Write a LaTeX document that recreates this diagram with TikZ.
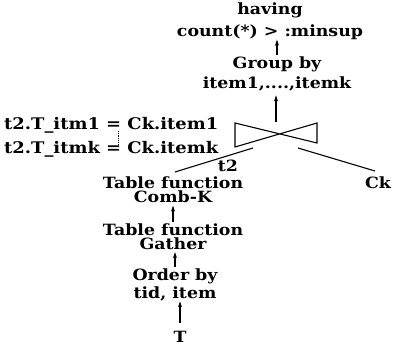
\documentclass[tikz,border=0pt]{standalone}
\usepackage{fontspec}
\setmainfont{DejaVu Serif}[FakeStretch=1.12]
\usetikzlibrary{arrows.meta}

\tikzset{
  op/.style={inner sep=0pt, align=center, font=\bfseries\fontsize{15.5}{19}\selectfont},
  flow/.style={-{Stealth[length=6pt,width=4pt]}, line width=1.1pt},
  edge/.style={line width=1.1pt}
}

\begin{document}
\begin{tikzpicture}[x=1pt,y=-1pt]
  \useasboundingbox (0,0) rectangle (394,347);
  % operators of the plan, bottom up
  \node[op] (T) at (180,337) {T};
  \node[op, font=\bfseries\fontsize{15.5}{18}\selectfont] (orderby) at (175,285) {Order by\\tid, item};
  \node[op, font=\bfseries\fontsize{15.5}{14}\selectfont] (gather) at (173,237) {Table function\\Gather};
  \node[op, font=\bfseries\fontsize{15.5}{14}\selectfont] (combk) at (173,189.5) {Table function\\Comb-K};
  \node[op] (ck) at (378,183) {Ck};
  \node[op] (t2) at (228,166) {t2};
  \node[op, font=\bfseries\fontsize{15.5}{20}\selectfont] (groupby) at (277,74) {Group by\\item1,....,itemk};
  \node[op, font=\bfseries\fontsize{15.5}{22}\selectfont] (having) at (270,21) {having\\count(*) > :minsup};
  % join predicate
  \node[op, anchor=west, font=\bfseries\fontsize{16}{19}\selectfont] (cond1) at (4,125) {t2.T\_itm1 = Ck.item1};
  \node[op, anchor=west, font=\bfseries\fontsize{16}{19}\selectfont] (condk) at (4,149) {t2.T\_itmk = Ck.itemk};
  \draw[densely dotted, line width=0.8pt] (118,131) -- (118,144);
  % join symbol
  \coordinate (join) at (276,134);
  \draw[edge] (235,123) -- (317,143) -- (317,123) -- (235,147) -- cycle;
  % join inputs
  \coordinate (t2in) at (175,172); \coordinate (ckin) at (375,171);
  \draw[edge] (253,148) -- (t2in);
  \draw[edge] (298,148) -- (ckin);
  % data flow
  \draw[flow] ([yshift=8pt]T.north) -- (T.north |- orderby.south);
  \draw[flow] ([yshift=2pt]orderby.north) -- ([yshift=-2pt]orderby.north |- gather.south);
  \draw[flow] ([yshift=2pt]gather.north) -- ([yshift=-3pt]gather.north |- combk.south);
  \draw[flow] ([yshift=12pt]join) -- ([yshift=-4pt]join |- groupby.south);
  \draw[flow] ([yshift=2pt]groupby.north) -- (groupby.north |- having.south);
\end{tikzpicture}
\end{document}
